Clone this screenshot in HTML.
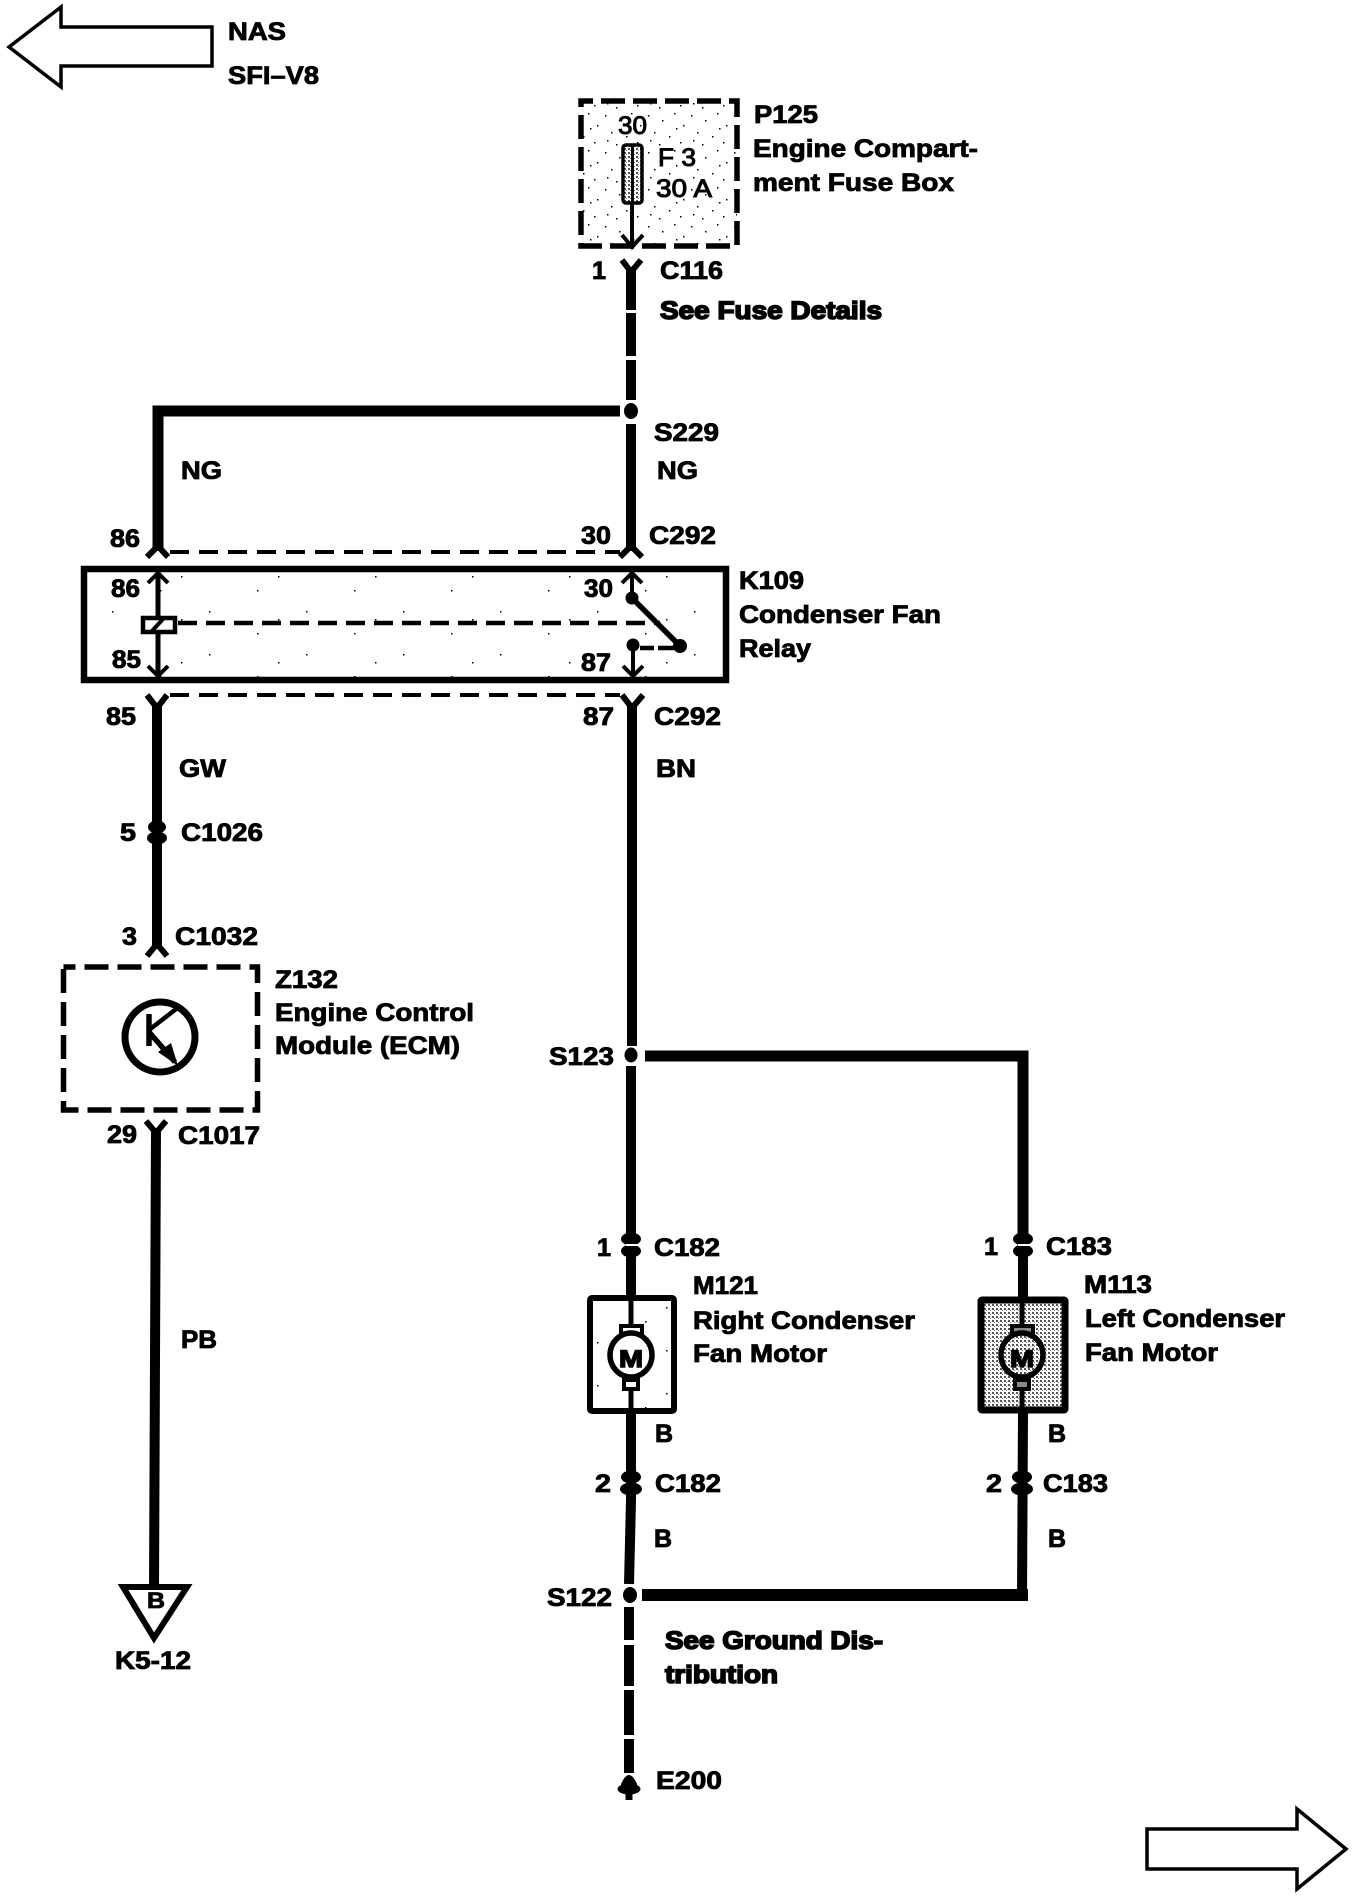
<!DOCTYPE html>
<html>
<head>
<meta charset="utf-8">
<title>Condenser Fan Wiring Diagram</title>
<style>
html,body{margin:0;padding:0;background:#fff;width:1360px;height:1898px;overflow:hidden}
svg{display:block}
text{font-family:"Liberation Sans",Arial,sans-serif;font-weight:700;font-size:25px;fill:#000;stroke:#000;stroke-width:.85px}
.blur{stroke-width:1.6px}
.reg{font-weight:400;stroke-width:1px}
.w{fill:none;stroke:#000}
</style>
</head>
<body>
<svg width="1360" height="1898" viewBox="0 0 1360 1898" xmlns="http://www.w3.org/2000/svg">
<defs>
<pattern id="st1" width="43" height="37" patternUnits="userSpaceOnUse">
<g fill="#000">
<rect x="3" y="4" width="1.5" height="1.5"/><rect x="17" y="9" width="1.5" height="1.5"/><rect x="29" y="2" width="1.5" height="1.5"/>
<rect x="38" y="14" width="1.5" height="1.5"/><rect x="9" y="21" width="1.5" height="1.5"/><rect x="24" y="25" width="1.5" height="1.5"/>
<rect x="35" y="31" width="1.5" height="1.5"/><rect x="14" y="33" width="1.5" height="1.5"/><rect x="31" y="17" width="1.5" height="1.5"/>
<rect x="5" y="29" width="1.5" height="1.5"/>
</g>
</pattern>
<pattern id="st2" width="4" height="4" patternUnits="userSpaceOnUse">
<rect width="4" height="4" fill="#fff"/><rect x="0" y="0" width="2" height="2" fill="#555"/><rect x="2" y="2" width="1" height="1" fill="#777"/>
</pattern>
<pattern id="st3" width="97" height="43" patternUnits="userSpaceOnUse">
<rect x="15" y="9" width="1.5" height="1.5" fill="#000"/><rect x="63" y="31" width="1.5" height="1.5" fill="#000"/><rect x="84" y="17" width="1.5" height="1.5" fill="#000"/>
</pattern>
</defs>
<rect width="1360" height="1898" fill="#fff"/>

<!-- top-left arrow -->
<path d="M9 47 L61 7 V27 H212 V66 H61 V87 Z" fill="#fff" stroke="#000" stroke-width="3.5" stroke-linejoin="miter"/>
<text x="228" y="40" textLength="58" lengthAdjust="spacingAndGlyphs">NAS</text>
<text x="228" y="84" textLength="91" lengthAdjust="spacingAndGlyphs">SFI–V8</text>

<!-- P125 -->
<rect x="581" y="101" width="156" height="145" fill="url(#st1)" stroke="#000" stroke-width="5.5" stroke-dasharray="24 8" stroke-dashoffset="12"/>
<text x="618" y="134" textLength="29" lengthAdjust="spacingAndGlyphs" class="reg">30</text>
<text x="658" y="166" textLength="38" lengthAdjust="spacingAndGlyphs" class="reg">F 3</text>
<text x="656" y="197" textLength="56" lengthAdjust="spacingAndGlyphs" class="reg">30 A</text>
<rect x="623" y="145" width="19" height="58" rx="3" fill="url(#st2)" stroke="#000" stroke-width="3.5"/>
<path d="M632.5 145 V203" class="w" stroke-width="3"/>
<path d="M632 203 V247" class="w" stroke-width="4"/>
<path d="M622 235 L632 247 L643 235" class="w" stroke-width="4"/>
<text x="754" y="123" textLength="64" lengthAdjust="spacingAndGlyphs">P125</text>
<text x="753" y="157" textLength="225" lengthAdjust="spacingAndGlyphs">Engine Compart-</text>
<text x="753" y="191" textLength="201" lengthAdjust="spacingAndGlyphs">ment Fuse Box</text>

<text x="592" y="279" textLength="14" lengthAdjust="spacingAndGlyphs">1</text>
<path d="M622 260 L631 272 L641 260" class="w" stroke-width="6"/>
<text x="660" y="279" textLength="63" lengthAdjust="spacingAndGlyphs">C116</text>
<text x="660" y="319" textLength="222" lengthAdjust="spacingAndGlyphs" class="blur">See Fuse Details</text>

<!-- fuse to S229 dashed -->
<path d="M631 268 V310 M631 313 V356 M631 360 V400" class="w" stroke-width="10"/>
<ellipse cx="631" cy="411" rx="7" ry="8" fill="#000"/>
<path d="M158 551 V411 H620" class="w" stroke-width="11"/>
<path d="M631 424 V551" class="w" stroke-width="10"/>
<text x="654" y="441" textLength="65" lengthAdjust="spacingAndGlyphs">S229</text>
<text x="181" y="479" textLength="41" lengthAdjust="spacingAndGlyphs">NG</text>
<text x="657" y="479" textLength="41" lengthAdjust="spacingAndGlyphs">NG</text>
<text x="110" y="547" textLength="30" lengthAdjust="spacingAndGlyphs">86</text>
<text x="581" y="544" textLength="30" lengthAdjust="spacingAndGlyphs">30</text>
<text x="649" y="544" textLength="67" lengthAdjust="spacingAndGlyphs">C292</text>
<path d="M147 557 L158 546 L168 557" class="w" stroke-width="6"/>
<path d="M620 557 L631 546 L642 557" class="w" stroke-width="6"/>
<path d="M170 552 H620" class="w" stroke-width="4" stroke-dasharray="19 10"/>

<!-- K109 relay -->
<rect x="84" y="569" width="642" height="111" fill="url(#st3)" stroke="#000" stroke-width="6.5"/>
<path d="M158 573 V675" class="w" stroke-width="5"/>
<path d="M148 583 L158 573 L168 583" class="w" stroke-width="4"/>
<path d="M148 666 L158 676 L168 666" class="w" stroke-width="4"/>
<rect x="143" y="618" width="32" height="14" fill="#fff" stroke="#000" stroke-width="4.5"/>
<path d="M152 631 L163 619" class="w" stroke-width="4"/>
<path d="M178 623 H660" class="w" stroke-width="4.5" stroke-dasharray="19 9"/>
<path d="M632 573 V598" class="w" stroke-width="4"/>
<path d="M622 583 L632 573 L642 583" class="w" stroke-width="4"/>
<circle cx="632" cy="598" r="6.5" fill="#000"/>
<path d="M632 598 L680 646" class="w" stroke-width="5.5"/>
<circle cx="680" cy="646" r="7" fill="#000"/>
<circle cx="633" cy="645" r="6.5" fill="#000"/>
<path d="M640 648 H654 M658 648 H674" class="w" stroke-width="4.5"/>
<path d="M633 645 V675" class="w" stroke-width="4"/>
<path d="M623 666 L633 676 L643 666" class="w" stroke-width="4"/>
<text x="111" y="597" textLength="29" lengthAdjust="spacingAndGlyphs">86</text>
<text x="112" y="668" textLength="29" lengthAdjust="spacingAndGlyphs">85</text>
<text x="584" y="597" textLength="29" lengthAdjust="spacingAndGlyphs">30</text>
<text x="581" y="671" textLength="30" lengthAdjust="spacingAndGlyphs">87</text>
<text x="739" y="589" textLength="65" lengthAdjust="spacingAndGlyphs">K109</text>
<text x="739" y="623" textLength="202" lengthAdjust="spacingAndGlyphs">Condenser Fan</text>
<text x="739" y="657" textLength="72" lengthAdjust="spacingAndGlyphs">Relay</text>

<!-- below relay -->
<path d="M147 695 L157 708 L167 695" class="w" stroke-width="6"/>
<path d="M622 695 L632 708 L643 695" class="w" stroke-width="6"/>
<path d="M170 695 H620" class="w" stroke-width="4" stroke-dasharray="19 10"/>
<text x="106" y="725" textLength="30" lengthAdjust="spacingAndGlyphs">85</text>
<text x="583" y="725" textLength="31" lengthAdjust="spacingAndGlyphs">87</text>
<text x="654" y="725" textLength="67" lengthAdjust="spacingAndGlyphs">C292</text>
<text x="179" y="777" textLength="47" lengthAdjust="spacingAndGlyphs">GW</text>
<text x="656" y="777" textLength="40" lengthAdjust="spacingAndGlyphs">BN</text>

<!-- left wire -->
<path d="M157 704 V948" class="w" stroke-width="10"/>
<ellipse cx="157" cy="827" rx="9" ry="6.5" fill="#000"/><ellipse cx="157" cy="838" rx="10" ry="6.5" fill="#000"/>
<text x="120" y="841" textLength="16" lengthAdjust="spacingAndGlyphs">5</text>
<text x="181" y="841" textLength="82" lengthAdjust="spacingAndGlyphs">C1026</text>
<text x="122" y="945" textLength="15" lengthAdjust="spacingAndGlyphs">3</text>
<text x="175" y="945" textLength="83" lengthAdjust="spacingAndGlyphs">C1032</text>
<path d="M147 956 L157 944 L167 956" class="w" stroke-width="6"/>

<!-- Z132 ECM -->
<rect x="63.5" y="967" width="194" height="143" fill="none" stroke="#000" stroke-width="5.5" stroke-dasharray="24 9" stroke-dashoffset="12"/>
<ellipse cx="160" cy="1037" rx="35" ry="35" fill="none" stroke="#000" stroke-width="7"/>
<path d="M149 1014 V1046" class="w" stroke-width="5.5"/>
<path d="M149 1030 L180 1006" class="w" stroke-width="4.5"/>
<path d="M149 1032 L175 1062" class="w" stroke-width="5.5"/>
<path d="M158 1052 L178 1066 L171 1043 Z" fill="#000"/>
<text x="275" y="988" textLength="63" lengthAdjust="spacingAndGlyphs">Z132</text>
<text x="275" y="1021" textLength="199" lengthAdjust="spacingAndGlyphs">Engine Control</text>
<text x="275" y="1054" textLength="185" lengthAdjust="spacingAndGlyphs">Module (ECM)</text>
<text x="107" y="1143" textLength="30" lengthAdjust="spacingAndGlyphs">29</text>
<text x="178" y="1144" textLength="82" lengthAdjust="spacingAndGlyphs">C1017</text>
<path d="M146 1121 L156 1133 L166 1121" class="w" stroke-width="6"/>
<path d="M156 1128 L154 1590" class="w" stroke-width="10"/>
<text x="181" y="1348" textLength="36" lengthAdjust="spacingAndGlyphs">PB</text>
<path d="M123 1587 H187 L154 1638 Z" fill="#fff" stroke="#000" stroke-width="6" stroke-linejoin="miter"/>
<text x="147" y="1608" textLength="18" lengthAdjust="spacingAndGlyphs" style="font-size:22px">B</text>
<text x="115" y="1669" textLength="76" lengthAdjust="spacingAndGlyphs">K5-12</text>

<!-- right main wire -->
<path d="M632 704 V1046 M631 1066 V1300" class="w" stroke-width="10"/>
<ellipse cx="631" cy="1055" rx="6.5" ry="7.5" fill="#000"/>
<path d="M645 1056 H1023 V1250" class="w" stroke-width="11"/>
<text x="549" y="1065" textLength="65" lengthAdjust="spacingAndGlyphs">S123</text>

<!-- top connectors motors -->
<ellipse cx="631" cy="1239" rx="10" ry="6.5" fill="#000"/><ellipse cx="631" cy="1251" rx="10" ry="6.5" fill="#000"/>
<path d="M626 1245 H637" stroke="#fff" stroke-width="2"/>
<ellipse cx="1023" cy="1239" rx="10" ry="6.5" fill="#000"/><ellipse cx="1023" cy="1251" rx="10" ry="6.5" fill="#000"/>
<path d="M1018 1245 H1029" stroke="#fff" stroke-width="2"/>
<path d="M1023 1250 V1300" class="w" stroke-width="10"/>
<text x="597" y="1256" textLength="14" lengthAdjust="spacingAndGlyphs">1</text>
<text x="654" y="1256" textLength="66" lengthAdjust="spacingAndGlyphs">C182</text>
<text x="984" y="1255" textLength="14" lengthAdjust="spacingAndGlyphs">1</text>
<text x="1046" y="1255" textLength="66" lengthAdjust="spacingAndGlyphs">C183</text>

<!-- M121 -->
<rect x="590" y="1298" width="84" height="113" rx="2" fill="url(#st3)" stroke="#000" stroke-width="6"/>
<path d="M631 1300 V1328 M631 1385 V1410" class="w" stroke-width="5"/>
<rect x="621" y="1326" width="21" height="9" fill="#fff" stroke="#000" stroke-width="4"/>
<rect x="624" y="1380" width="14" height="9" fill="#fff" stroke="#000" stroke-width="4"/>
<ellipse cx="631" cy="1355" rx="21" ry="22" fill="#fff" stroke="#000" stroke-width="5.5"/>
<text x="619" y="1367" textLength="24" lengthAdjust="spacingAndGlyphs" style="font-size:24px;stroke-width:1.4px">M</text>
<text x="693" y="1294" textLength="65" lengthAdjust="spacingAndGlyphs">M121</text>
<text x="693" y="1329" textLength="222" lengthAdjust="spacingAndGlyphs">Right Condenser</text>
<text x="693" y="1362" textLength="134" lengthAdjust="spacingAndGlyphs">Fan Motor</text>

<!-- M113 -->
<rect x="981" y="1300" width="84" height="110" rx="1" fill="url(#st2)" stroke="#000" stroke-width="7"/>
<path d="M1022 1300 V1328 M1022 1385 V1410" class="w" stroke-width="5"/>
<rect x="1012" y="1326" width="21" height="9" fill="#888" stroke="#000" stroke-width="4"/>
<rect x="1015" y="1380" width="14" height="9" fill="#888" stroke="#000" stroke-width="4"/>
<ellipse cx="1022" cy="1355" rx="21" ry="22" fill="url(#st2)" stroke="#000" stroke-width="5.5"/>
<text x="1010" y="1367" textLength="24" lengthAdjust="spacingAndGlyphs" style="font-size:24px;stroke-width:1.4px">M</text>
<text x="1084" y="1293" textLength="68" lengthAdjust="spacingAndGlyphs">M113</text>
<text x="1085" y="1327" textLength="200" lengthAdjust="spacingAndGlyphs">Left Condenser</text>
<text x="1085" y="1361" textLength="133" lengthAdjust="spacingAndGlyphs">Fan Motor</text>

<!-- lower wires -->
<path d="M631 1412 V1500 L629 1584" class="w" stroke-width="10"/>
<path d="M1023 1412 L1022 1600" class="w" stroke-width="10"/>
<text x="655" y="1442" textLength="18" lengthAdjust="spacingAndGlyphs">B</text>
<text x="1048" y="1442" textLength="18" lengthAdjust="spacingAndGlyphs">B</text>
<ellipse cx="631" cy="1477" rx="10" ry="6.5" fill="#000"/><ellipse cx="631" cy="1489" rx="11" ry="6.5" fill="#000"/>
<ellipse cx="1022" cy="1477" rx="10" ry="6.5" fill="#000"/><ellipse cx="1022" cy="1489" rx="11" ry="6.5" fill="#000"/>
<text x="595" y="1492" textLength="16" lengthAdjust="spacingAndGlyphs">2</text>
<text x="655" y="1492" textLength="66" lengthAdjust="spacingAndGlyphs">C182</text>
<text x="986" y="1492" textLength="16" lengthAdjust="spacingAndGlyphs">2</text>
<text x="1043" y="1492" textLength="65" lengthAdjust="spacingAndGlyphs">C183</text>
<text x="654" y="1547" textLength="18" lengthAdjust="spacingAndGlyphs">B</text>
<text x="1048" y="1547" textLength="18" lengthAdjust="spacingAndGlyphs">B</text>

<ellipse cx="630" cy="1595" rx="7" ry="8" fill="#000"/>
<path d="M642 1595 H1028" class="w" stroke-width="12"/>
<text x="547" y="1606" textLength="65" lengthAdjust="spacingAndGlyphs">S122</text>
<path d="M629 1607 V1640 M629 1645 V1686 M629 1690 V1735 M629 1739 V1773" class="w" stroke-width="10"/>
<text x="665" y="1649" textLength="218" lengthAdjust="spacingAndGlyphs" class="blur">See Ground Dis-</text>
<text x="665" y="1683" textLength="113" lengthAdjust="spacingAndGlyphs" class="blur">tribution</text>
<path d="M621 1792 V1784 Q629 1766 637 1784 V1792 Z" fill="#000"/>
<ellipse cx="629" cy="1789" rx="11.5" ry="5.5" fill="#000"/>
<path d="M629 1790 V1800" class="w" stroke-width="7"/>
<text x="656" y="1789" textLength="66" lengthAdjust="spacingAndGlyphs">E200</text>

<!-- bottom-right arrow -->
<path d="M1147 1829 H1297 V1809 L1346 1849 L1297 1889 V1869 H1147 Z" fill="#fff" stroke="#000" stroke-width="3.5"/>
</svg>
</body>
</html>
